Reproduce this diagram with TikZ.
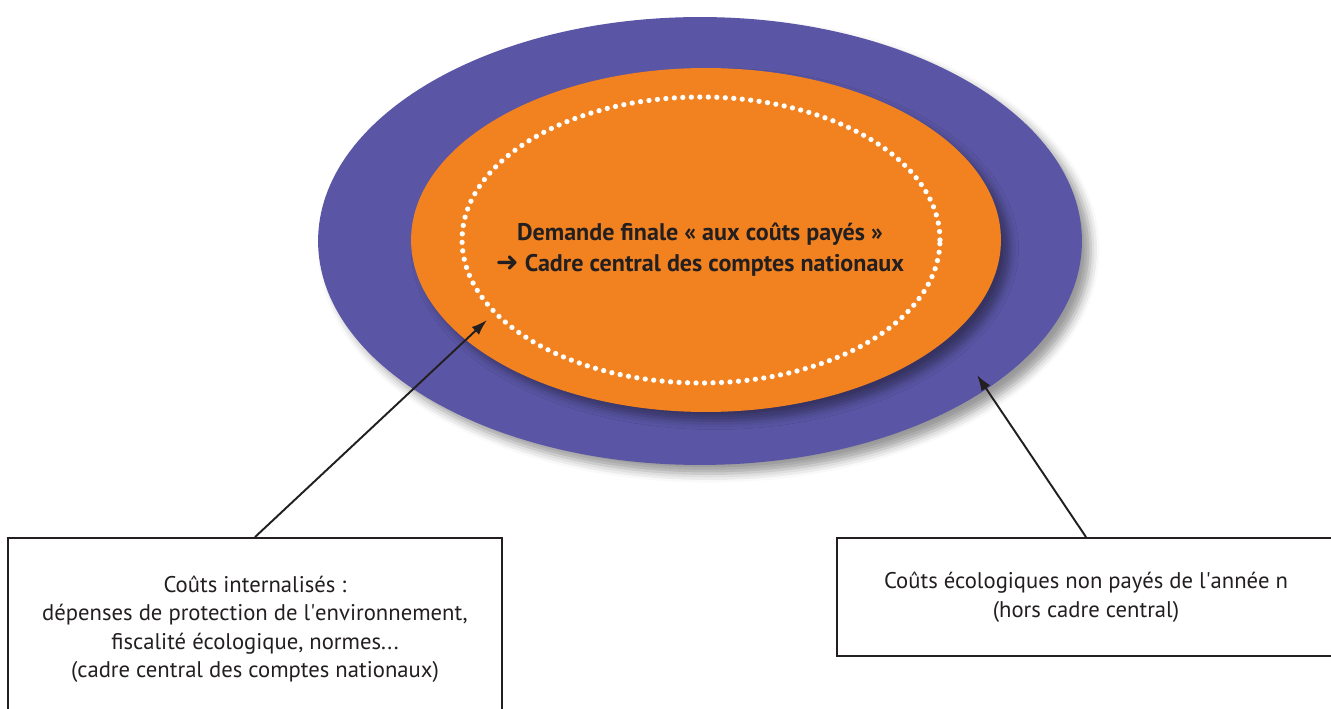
\documentclass[tikz,border=0pt]{standalone}
\usepackage{fontspec}
\setmainfont{PT Sans}
\newfontfamily\symbfont{DejaVu Sans}
\usetikzlibrary{shapes.geometric,shadows.blur,arrows.meta,positioning}
\definecolor{ringblue}{RGB}{90,86,165}
\definecolor{coreorange}{RGB}{242,130,32}
\definecolor{inkgray}{RGB}{35,31,32}

\begin{document}
\begin{tikzpicture}[x=0.02cm,y=-0.02cm]
      \useasboundingbox (0,0) rectangle (1331,709);
      \tikzset{
      ring/.style = {ellipse, inner sep=0pt},
      infobox/.style = {draw=inkgray, line width=1.1pt, fill=white, align=center,
        text=inkgray, font=\fontsize{12.9}{16.2}\selectfont},
      pointer/.style = {-{Latex[length=9pt,width=6pt]}, line width=1.1pt, inkgray} }

      \node[ring, fill=ringblue, minimum width=15.28cm, minimum height=8.96cm,
        blur shadow={shadow xshift=5pt, shadow yshift=-5pt, shadow blur radius=5pt}]
        (outer) at (700,241) {};
      \node[ring, fill=coreorange, minimum width=11.8cm, minimum height=6.88cm,
        blur shadow={shadow xshift=5pt, shadow yshift=-5pt, shadow blur radius=5pt}]
        (core) at (706,240) {};
      \node[ring, draw=white, line width=3pt, line cap=round,
        dash pattern=on 0pt off 0.17cm, minimum width=9.56cm, minimum height=5.72cm]
        (ring) at (701,240) {};

      \node[text=inkgray, align=center, font=\bfseries\fontsize{13.7}{17.6}\selectfont]
        (title) at (700,250) {Demande finale « aux coûts payés »\\
        {\symbfont\fontsize{15.5}{17.6}\selectfont ➜} Cadre central des comptes nationaux};

      \node[infobox, minimum width=9.88cm, minimum height=3.64cm] (internal) at (255,629)
        {Coûts internalisés :\\ dépenses de protection de l\textquotesingle environnement,\\
        fiscalité écologique, normes...\\ (cadre central des comptes nationaux)};
      \node[infobox, minimum width=9.96cm, minimum height=2.36cm] (unpaid) at (1086,597)
        {Coûts écologiques non payés de l\textquotesingle année n\\ (hors cadre central)};

      \coordinate (tipL) at (487,320);
      \coordinate (tipR) at (977,375);
      \draw[pointer] (internal.north) -- (tipL);
      \draw[pointer] (unpaid.north) -- (tipR);
\end{tikzpicture}
\end{document}
